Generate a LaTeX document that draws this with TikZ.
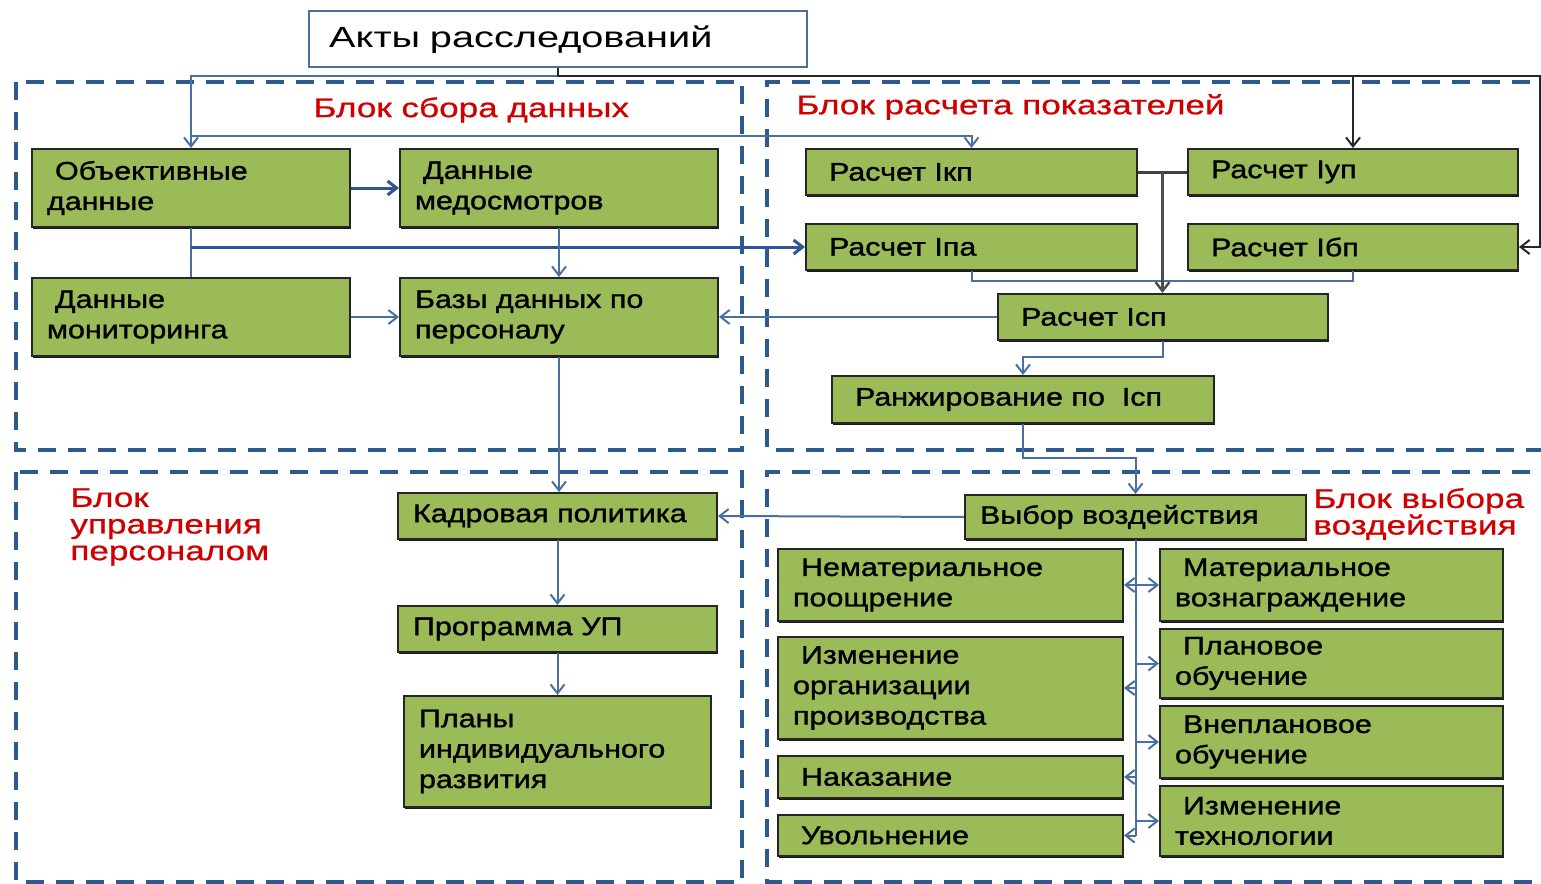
\documentclass[tikz,border=0pt]{standalone}
\usepackage{fontspec}
\setmainfont{Liberation Sans}
\newfontfamily\boxfont[FakeStretch=1.2,FakeBold=1.3]{Liberation Sans}
\newfontfamily\titlefont[FakeStretch=1.36]{Liberation Sans}
\newfontfamily\redfont[FakeStretch=1.3,FakeBold=0.8]{Liberation Sans}
\usetikzlibrary{arrows.meta,calc,shadows}
\definecolor{gfill}{HTML}{9BBB59}
\definecolor{gdraw}{HTML}{262626}
\definecolor{cblue}{HTML}{4A6FA5}
\definecolor{dblue}{HTML}{2F5597}
\definecolor{rblue}{HTML}{2C5A8E}
\definecolor{tred}{HTML}{D00000}
\definecolor{tborder}{HTML}{4F6E9C}
\tikzset{
  gbox/.style 2 args={draw=gdraw, fill=gfill, line width=1pt, anchor=north west,
    inner xsep=7.5pt, inner ysep=0pt, minimum width=#1*0.5pt, minimum height=#2*0.5pt,
    text width=#1*0.5pt-15pt, align=left, text=black,
    font=\boxfont\fontsize{12.7}{15.2}\selectfont,
    drop shadow={shadow xshift=0.4pt, shadow yshift=-0.9pt, opacity=0.9, fill=black}},
  redlab/.style={text=tred, font=\redfont\fontsize{13.5}{13.3}\selectfont, inner sep=0pt, align=left},
  region/.style={draw=rblue, line width=2pt, dash pattern=on 9pt off 6pt},
  ln/.style={draw=cblue, line width=1pt},
  arr/.style={ln, -{Straight Barb[length=4.5pt,width=7pt]}},
  thkarr/.style={draw=dblue, line width=1.5pt, -{Straight Barb[length=4.5pt,width=7pt]}},
  darr/.style={ln, {Straight Barb[length=4.5pt,width=7pt]}-{Straight Barb[length=4.5pt,width=7pt]}},
  blkarr/.style={draw=black!85, line width=1pt, -{Straight Barb[length=4.5pt,width=7pt]}},
  darkln/.style={draw=black!75, line width=1.5pt},
  darkarr/.style={draw=black!70, line width=1.2pt, -{Straight Barb[length=4.5pt,width=7pt]}},
}
\begin{document}
\begin{tikzpicture}[x=0.5pt,y=-0.5pt]
\useasboundingbox (0,0) rectangle (1541,883);
% regions
\draw[region] (16,82) rectangle (742,450);
\draw[region] (1560,82) -- (767,82) -- (767,450) -- (1560,450);
\draw[region] (16,472) rectangle (742,882);
\draw[region] (1560,472) -- (767,472) -- (767,882) -- (1560,882);
% red labels
\node[redlab, anchor=west] (lab1) at (313,110) {Блок сбора данных};
\node[redlab, anchor=west] (lab2) at (796,107) {Блок расчета показателей};
\node[redlab, anchor=west] (lab3) at (70,527) {Блок\\управления\\персоналом};
\node[redlab, anchor=west] (lab4) at (1313,514) {Блок выбора\\воздействия};
% title
\node[draw=tborder, line width=1.2pt, fill=white, anchor=north west, inner xsep=10pt, inner ysep=0pt,
  minimum width=249pt, minimum height=28pt, text width=229pt, align=left,
  font=\titlefont\fontsize{14.6}{17}\selectfont] (title) at (308,10) {Акты расследований};
% boxes
\node[gbox={318}{78}] (obj) at (31,148) {\hspace*{4pt}Объективные\\данные};
\node[gbox={318}{78}] (med) at (399,148) {\hspace*{4pt}Данные\\медосмотров};
\node[gbox={318}{78}] (mon) at (31,277) {\hspace*{4pt}Данные\\мониторинга};
\node[gbox={318}{78}] (baz) at (399,277) {Базы данных по\\персоналу};
\node[gbox={331}{46}] (ikp) at (805,148) {\hspace*{4pt}Расчет Iкп};
\node[gbox={330}{46}] (iup) at (1187,148) {\hspace*{4pt}Расчет Iуп};
\node[gbox={331}{46}] (ipa) at (805,223) {\hspace*{4pt}Расчет Iпа};
\node[gbox={330}{46}] (ibp) at (1187,223) {\hspace*{4pt}Расчет Iбп};
\node[gbox={330}{46}] (isp) at (997,293) {\hspace*{4pt}Расчет Iсп};
\node[gbox={382}{47}] (rank) at (831,375) {\hspace*{4pt}Ранжирование по~~Iсп};
\node[gbox={341}{44}] (vyb) at (964,494) {Выбор воздействия};
\node[gbox={319}{46}] (kadr) at (397,492) {Кадровая политика};
\node[gbox={319}{46}] (prog) at (397,605) {Программа УП};
\node[gbox={307}{111}] (plan) at (403,695) {Планы\\индивидуального\\развития};
\node[gbox={345}{72}] (nemat) at (777,548) {\hspace*{4pt}Нематериальное\\поощрение};
\node[gbox={345}{102}] (izorg) at (777,636) {\hspace*{4pt}Изменение\\организации\\производства};
\node[gbox={345}{42}] (nakaz) at (777,755) {\hspace*{4pt}Наказание};
\node[gbox={345}{41}] (uvol) at (777,814) {\hspace*{4pt}Увольнение};
\node[gbox={343}{72}] (mat) at (1159,548) {\hspace*{4pt}Материальное\\вознаграждение};
\node[gbox={343}{69}] (plob) at (1159,628) {\hspace*{4pt}Плановое\\обучение};
\node[gbox={343}{72}] (vnep) at (1159,705) {\hspace*{4pt}Внеплановое\\обучение};
\node[gbox={343}{70}] (iztech) at (1159,785) {\hspace*{4pt}Изменение\\технологии};
% helper coordinates
\coordinate (ytop) at (0,76);
\coordinate (rtop) at (1540,76);
\coordinate (y136) at (0,136);
\coordinate (y281) at (0,281);
\coordinate (y357) at (0,357);
\coordinate (y458) at (0,458);
\coordinate (mid) at ($(ikp.east)!0.5!(iup.west)$);
% connectors
\draw[arr] (title.south |- ytop) -| (obj.north);
\draw[blkarr] (title.south) |- (rtop) |- (ibp.east);
\draw[blkarr] (iup.north |- ytop) -- (iup.north);
\draw[arr] (obj.north |- y136) -| (ikp.north);
\draw[thkarr] (obj.east) -- (med.west);
\draw[ln] (obj.south) -- (mon.north);
\draw[thkarr] (obj.south |- ipa.west) -- (ipa.west);
\draw[arr] (med.south) -- (baz.north);
\draw[arr] (mon.east) -- (baz.west);
\draw[arr] (isp.west) -- (baz.east);
\draw[darkln] (ikp.east) -- (iup.west);
\draw[ln] (ipa.south) |- (ibp.south |- y281) -- (ibp.south);
\draw[darkarr] (mid) -- (mid |- isp.north);
\draw[arr] (isp.south) -- (isp.south |- y357) -| (rank.north);
\draw[arr] (rank.south) -- (rank.south |- y458) -| (vyb.north);
\draw[arr] (vyb.west) -- (kadr.east);
\draw[arr] (baz.south) -- (baz.south |- kadr.north);
\draw[arr] (kadr.south) -- (prog.north);
\draw[arr] (prog.south) -- (plan.north);
\draw[ln] (vyb.south) -- (vyb.south |- uvol.east);
\draw[darr] (nemat.east) -- (mat.west);
\draw[arr] (vyb.south |- plob.west) -- (plob.west);
\draw[arr] (vyb.south |- izorg.east) -- (izorg.east);
\draw[arr] (vyb.south |- vnep.west) -- (vnep.west);
\draw[arr] (vyb.south |- nakaz.east) -- (nakaz.east);
\draw[arr] (vyb.south |- iztech.west) -- (iztech.west);
\draw[arr] (vyb.south |- uvol.east) -- (uvol.east);
\end{tikzpicture}
\end{document}
